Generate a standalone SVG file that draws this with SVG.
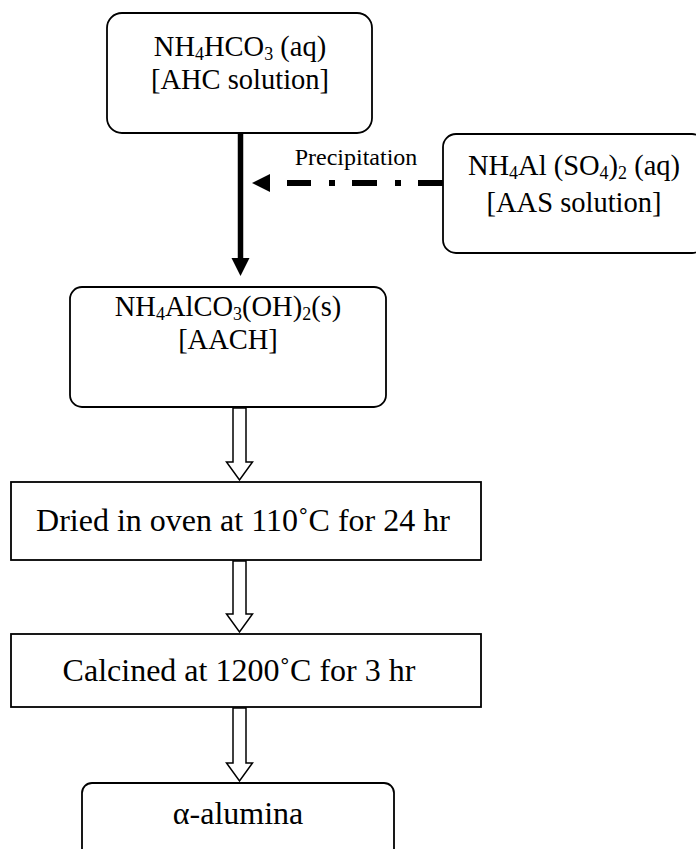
<svg xmlns="http://www.w3.org/2000/svg" width="696" height="849" viewBox="0 0 696 849">
<defs>
<style>
.box{fill:#fff;stroke:#000;stroke-width:1.8}
.t{font-family:"Liberation Serif","Times New Roman",serif;fill:#000;text-anchor:middle}
.t28{font-size:28.5px}
.t32{font-size:32px}
.sub{font-size:18px}
.blk{fill:#fff;stroke:#000;stroke-width:1.5;stroke-linejoin:miter}
</style>
</defs>
<rect width="696" height="849" fill="#fff"/>
<g id="connectors">
<line x1="240.5" y1="133" x2="240.5" y2="259" stroke="#000" stroke-width="5.5"/>
<polygon points="231.5,258 249.5,258 240.5,276" fill="#000"/>
<line x1="443" y1="183" x2="287" y2="183" stroke="#000" stroke-width="6" stroke-dasharray="25 17 6 18"/>
<polygon points="252,183 270,174 270,192" fill="#000"/>
<text class="t" x="356" y="165" style="font-size:24px">Precipitation</text>
<polygon class="blk" points="233,408 246,408 246,462 252.5,462 239.5,480 226.5,462 233,462"/>
<polygon class="blk" points="233,561 246,561 246,614 252.5,614 239.5,632 226.5,614 233,614"/>
<polygon class="blk" points="233,708 246,708 246,763 252.5,763 239.5,781 226.5,763 233,763"/>
</g>
<g id="ahc">
<rect class="box" x="107" y="13" width="265" height="120" rx="15"/>
<text class="t t28" x="240" y="56">NH<tspan class="sub" dy="4">4</tspan><tspan dy="-4">HCO</tspan><tspan class="sub" dy="4">3</tspan><tspan dy="-4"> (aq)</tspan></text>
<text class="t t28" x="240" y="89">[AHC solution]</text>
</g>
<g id="aas">
<rect class="box" x="443" y="134" width="262" height="119" rx="13"/>
<text class="t t28" x="574" y="175">NH<tspan class="sub" dy="4">4</tspan><tspan dy="-4">Al (SO</tspan><tspan class="sub" dy="4">4</tspan><tspan dy="-4">)</tspan><tspan class="sub" dy="4">2</tspan><tspan dy="-4"> (aq)</tspan></text>
<text class="t t28" x="574" y="212">[AAS solution]</text>
</g>
<g id="aach">
<rect class="box" x="70" y="287" width="316" height="120" rx="12"/>
<text class="t t28" x="228" y="316">NH<tspan class="sub" dy="4">4</tspan><tspan dy="-4">AlCO</tspan><tspan class="sub" dy="4">3</tspan><tspan dy="-4">(OH)</tspan><tspan class="sub" dy="4">2</tspan><tspan dy="-4">(s)</tspan></text>
<text class="t t28" x="228" y="349">[AACH]</text>
</g>
<g id="dried">
<rect class="box" x="11" y="482" width="470" height="78"/>
<text class="t t32" x="243" y="531">Dried in oven at 110˚C for 24 hr</text>
</g>
<g id="calcined">
<rect class="box" x="11" y="634" width="470" height="73"/>
<text class="t t32" x="239" y="681">Calcined at 1200˚C for 3 hr</text>
</g>
<g id="alumina">
<rect class="box" x="82" y="783" width="312" height="80" rx="10"/>
<text class="t t32" x="238" y="824">α-alumina</text>
</g>
</svg>
